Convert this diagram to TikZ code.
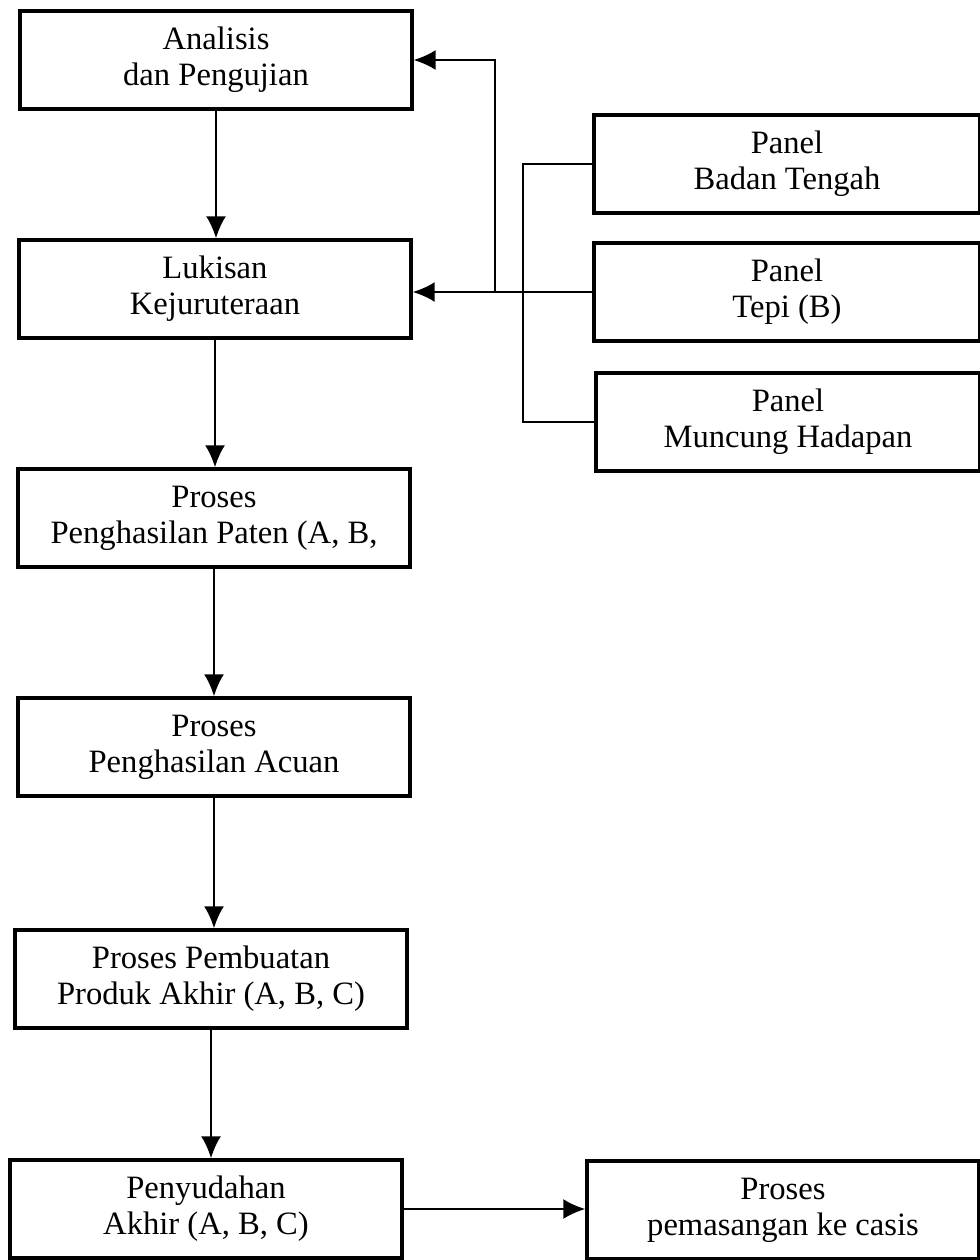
\documentclass[tikz,border=0pt]{standalone}
\usepackage{fontspec}
\setmainfont{Liberation Serif}
\usetikzlibrary{arrows.meta,positioning,calc}
\tikzset{>={Latex[length=11pt,width=10pt]}}
\tikzset{box/.style={draw, line width=1.7pt, rectangle, align=center,
    minimum width=196pt, minimum height=49pt, inner sep=0pt,
    font=\fontsize{16.3pt}{18pt}\selectfont}}
\tikzset{flow/.style={->, line width=1.1pt}}
\tikzset{link/.style={line width=0.9pt}}

\begin{document}
\begin{tikzpicture}[x=0.5pt,y=-0.5pt]
  \useasboundingbox (0,0) rectangle (980,1260);
  % main column
  \node[box] (ana) at (216,60) {Analisis\\dan Pengujian};
  \node[box] (luk) at (215,289) {Lukisan\\Kejuruteraan};
  \node[box] (paten) at (214,518) {Proses\\Penghasilan Paten (A, B,};
  \node[box] (acuan) at (214,747) {Proses\\Penghasilan Acuan};
  \node[box] (buat) at (211,979) {Proses Pembuatan\\Produk Akhir (A, B, C)};
  \node[box] (sudah) at (206,1209) {Penyudahan\\Akhir (A, B, C)};
  \node[box] (casis) at (783,1210) {Proses\\pemasangan ke casis};
  % panels
  \node[box, minimum width=193pt] (badan) at (787,164) {Panel\\Badan Tengah};
  \node[box, minimum width=193pt] (tepi) at (787,292) {Panel\\Tepi (B)};
  \node[box, minimum width=192pt] (muncung) at (788,422) {Panel\\Muncung Hadapan};
  % arrows down the column
  \draw[flow] (ana.south) -- (ana.south |- luk.north);
  \draw[flow] (luk.south) -- (luk.south |- paten.north);
  \draw[flow] (paten.south) -- (paten.south |- acuan.north);
  \draw[flow] (acuan.south) -- (acuan.south |- buat.north);
  \draw[flow] (buat.south) -- (buat.south |- sudah.north);
  \draw[flow] (sudah.east |- 0,1209) -- (casis.west |- 0,1209);
  % panels into the drawing
  \coordinate (bar) at (523,0);
  \coordinate (jn) at (495,0);
  \draw[link] (badan.west) -| (bar |- muncung.west) -- (muncung.west);
  \draw[flow] (tepi.west) -- (tepi.west -| luk.east);
  \draw[flow, line width=0.9pt] (jn |- tepi.west) |- (ana.east);
\end{tikzpicture}
\end{document}
